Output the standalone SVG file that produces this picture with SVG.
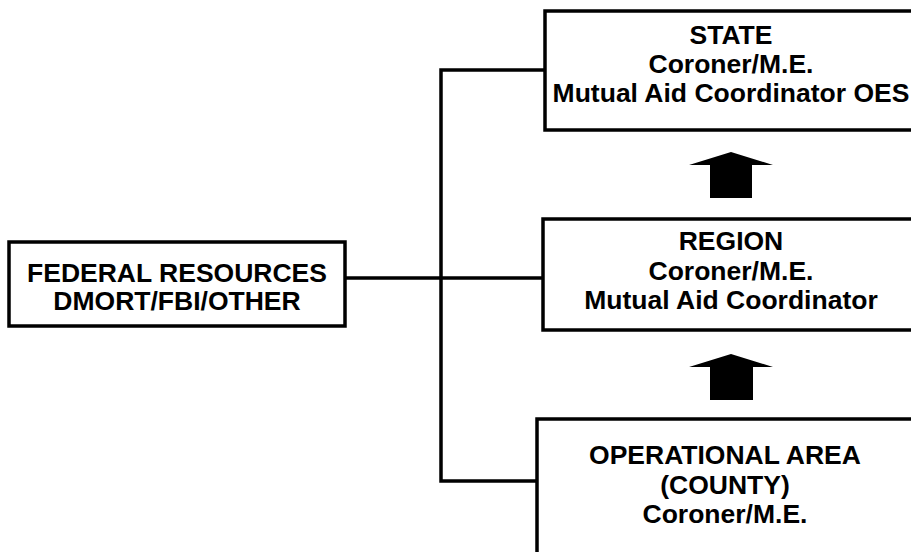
<svg xmlns="http://www.w3.org/2000/svg" width="911" height="552" viewBox="0 0 911 552">
  <style>
    .box { fill: #ffffff; stroke: #000000; stroke-width: 3.5; }
    .wire { fill: none; stroke: #000000; stroke-width: 3.5; stroke-linecap: square; }
    .up { fill: #000000; stroke: none; }
    text { font-family: "Liberation Sans", Arial, Helvetica, sans-serif; font-weight: bold; font-size: 26.5px; fill: #000000; text-anchor: middle; }
  </style>
  <rect x="0" y="0" width="911" height="552" fill="#ffffff"/>

  <!-- connectors from the federal resources box -->
  <g id="connectors">
    <polyline class="wire" points="545,70 441,70 441,481 537,481"/>
    <line class="wire" x1="345" y1="278" x2="543" y2="278"/>
    <!-- upward escalation arrows -->
    <polygon class="up" points="731,152 773,165 752,165 752,198 710,198 710,165 689,165"/>
    <polygon class="up" points="731,354 773,367 753,367 753,400 710,400 710,367 689,367"/>
  </g>

  <g id="state">
    <rect class="box" x="545" y="11" width="372" height="119"/>
    <text x="731" y="44">STATE</text>
    <text x="731" y="73">Coroner/M.E.</text>
    <text x="731" y="102">Mutual Aid Coordinator OES</text>
  </g>

  <g id="region">
    <rect class="box" x="543" y="219" width="374" height="111"/>
    <text x="731" y="250">REGION</text>
    <text x="731" y="280">Coroner/M.E.</text>
    <text x="731" y="309">Mutual Aid Coordinator</text>
  </g>

  <g id="operational-area">
    <rect class="box" x="537" y="419" width="380" height="150"/>
    <text x="725" y="464">OPERATIONAL AREA</text>
    <text x="725" y="494">(COUNTY)</text>
    <text x="725" y="523">Coroner/M.E.</text>
  </g>

  <g id="federal">
    <rect class="box" x="9" y="242" width="336" height="84"/>
    <text x="177" y="282">FEDERAL RESOURCES</text>
    <text x="177" y="310">DMORT/FBI/OTHER</text>
  </g>
</svg>
